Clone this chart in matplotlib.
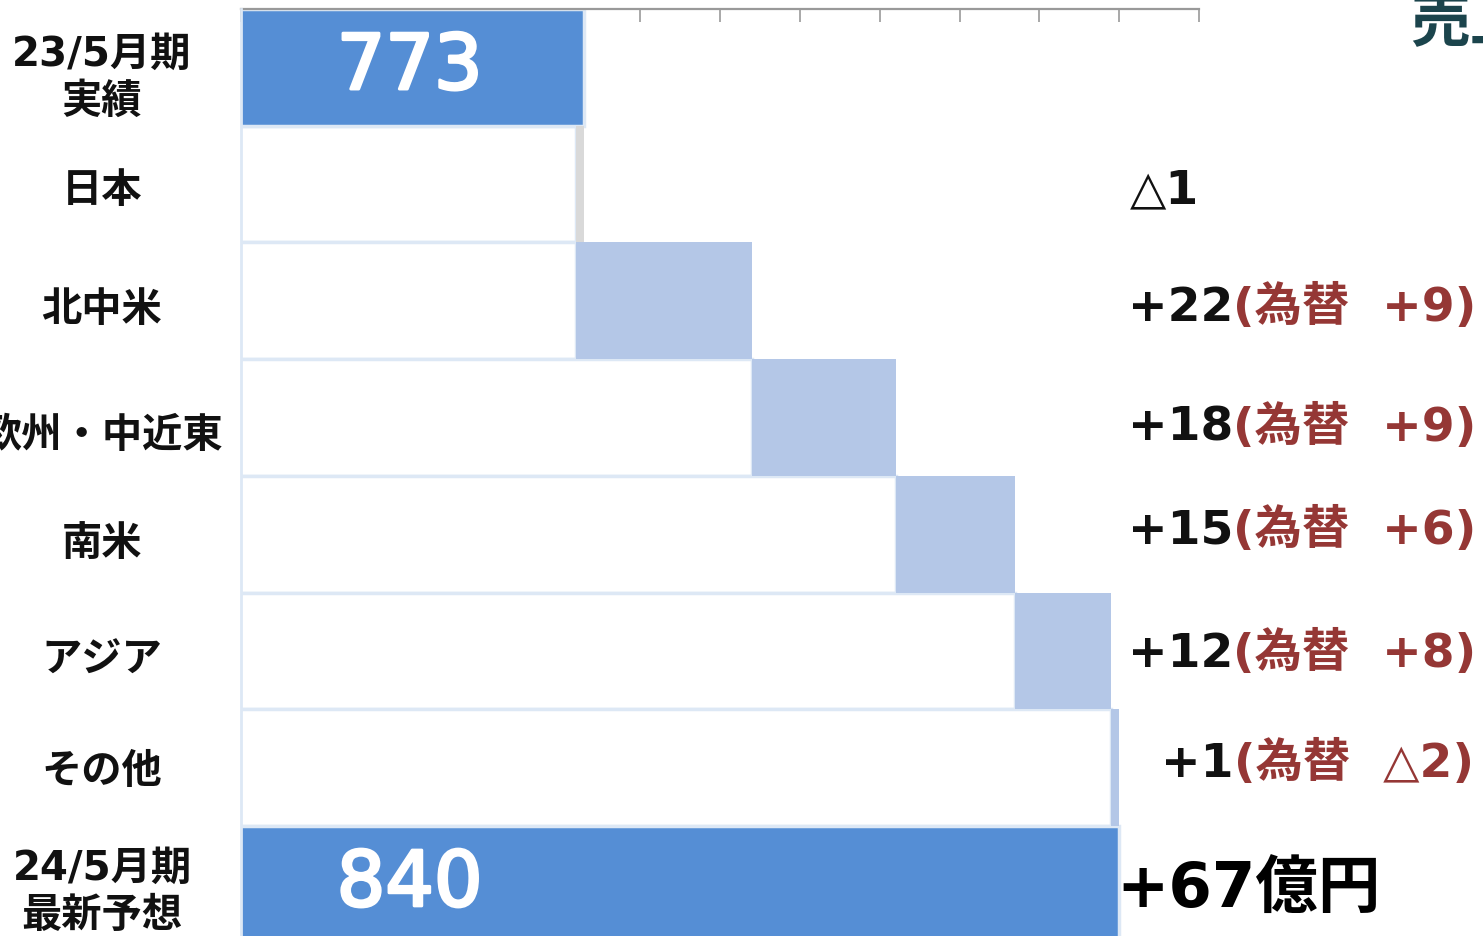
import numpy as np
import matplotlib
matplotlib.use("Agg")
import matplotlib.pyplot as plt
import matplotlib.patheffects as pe
from matplotlib.transforms import blended_transform_factory

# ---- data ----
categories = ["23/5月期\n実績", "日本", "北中米", "欧州・中近東", "南米", "アジア", "その他", "24/5月期\n最新予想"]
total_start = 773
total_end = 840
region_changes = [-1, 22, 18, 15, 12, 1]          # change by region (億円)
fx_effects = [None, 9, 9, 6, 8, -2]               # of which, currency effect
total_label_unit = "億円"
axis_ticks = list(range(730, 851, 10))

# ---- styling ----
FAMILY = ["DejaVu Sans", "Noto Sans CJK JP"]
C_TOTAL = "#558ed5"
C_UP = "#b4c7e7"
C_DOWN = "#d9d9d9"
C_EDGE = "#dde8f5"
C_RED = "#953735"
C_TITLE = "#1b444c"

W, H, DPI = 1483, 937, 100
fig = plt.figure(figsize=(W / DPI, H / DPI), dpi=DPI)

row_px = 116.7
top_px = 10
n_rows = len(categories)
ax_left, ax_right = 241, 1199
ax_bottom_px = top_px + n_rows * row_px
ax = fig.add_axes([ax_left / W, 1 - ax_bottom_px / H, (ax_right - ax_left) / W, (ax_bottom_px - top_px) / H])

def fmt(v):
    return ("+" if v >= 0 else "△") + str(abs(v))

# waterfall geometry from the changes
y = np.arange(n_rows)
levels = np.concatenate([[total_start], total_start + np.cumsum(region_changes)])
lows = np.minimum(levels[:-1], levels[1:])
highs = np.maximum(levels[:-1], levels[1:])

# totals
for yi, val in [(0, total_start), (n_rows - 1, levels[-1])]:
    ax.barh(yi, val, height=1.0, color=C_TOTAL, edgecolor=C_EDGE, linewidth=2.5, zorder=2)

# white bases and the change segments
for i, (lo, hi, ch) in enumerate(zip(lows, highs, region_changes)):
    yi = i + 1
    ax.barh(yi, lo, height=1.0, color="white", edgecolor=C_EDGE, linewidth=2.5, zorder=1)
    ax.barh(yi, hi - lo, left=lo, height=1.0, color=C_UP if ch >= 0 else C_DOWN,
            edgecolor="none", linewidth=0, zorder=2)

ax.set_xlim(730, 850)
ax.set_ylim(n_rows - 0.5, -0.5)

# axis cosmetics
for s in ["right", "bottom"]:
    ax.spines[s].set_visible(False)
ax.spines["left"].set_color(C_EDGE)
ax.spines["left"].set_linewidth(2)
ax.spines["left"].set_zorder(3)
ax.spines["top"].set_color("#999999")
ax.spines["top"].set_linewidth(1.6)
ax.xaxis.tick_top()
ax.set_xticks(axis_ticks)
ax.tick_params(axis="x", direction="in", length=9, width=1.2, color="#999999",
               labeltop=False, labelbottom=False)
ax.set_yticks([])

# values inside the total bars
xfrac = blended_transform_factory(ax.transAxes, ax.transData)
for yi, val in [(0, total_start), (n_rows - 1, levels[-1])]:
    ax.text(0.176, yi + 0.005, str(val), transform=xfrac, ha="center", va="center",
            color="white", fontsize=55, family=FAMILY, zorder=5,
            path_effects=[pe.withStroke(linewidth=2.2, foreground="white")])

# category labels on the left
left_nudge_px = [10, 6, 8, 18, 9, 9, 3, 7]
for yi, (cat, nd) in enumerate(zip(categories, left_nudge_px)):
    ax.text(-0.1451, yi + nd / row_px, cat, transform=xfrac, ha="center", va="center",
            fontsize=29, fontweight="bold", family=FAMILY, linespacing=1.25,
            clip_on=False, color="#111111")

# change labels on the right
right_x_px = [1130, 1128, 1128, 1128, 1128, 1161]
right_nudge_px = [6, 7, 10, -4, 3, -4]
for i, (ch, fx) in enumerate(zip(region_changes, fx_effects)):
    yi = i + 1
    t = ax.text((right_x_px[i] - ax_left) / (ax_right - ax_left), yi + right_nudge_px[i] / row_px,
                fmt(ch), transform=xfrac, ha="left", va="center", fontsize=34,
                fontweight="bold", family=FAMILY, clip_on=False, color="#111111")
    if fx is not None:
        ax.annotate("(為替  " + fmt(fx) + ")", xy=(1, 0), xycoords=t, ha="left", va="bottom",
                    fontsize=34, fontweight="bold", family=FAMILY, color=C_RED,
                    annotation_clip=False)

# overall change
ax.text((1116 - ax_left) / (ax_right - ax_left), n_rows - 1 + 6 / row_px,
        fmt(levels[-1] - total_start) + total_label_unit, transform=xfrac,
        ha="left", va="center", fontsize=45, fontweight="bold", family=FAMILY,
        clip_on=False, color="black")

# page title (runs off the right edge)
fig.text(1410 / W, 1 - 40 / H, "売上高", ha="left", va="baseline", fontsize=43,
         fontweight="bold", family=["Noto Sans CJK JP"], color=C_TITLE)

fig.savefig("out.png", dpi=DPI)
